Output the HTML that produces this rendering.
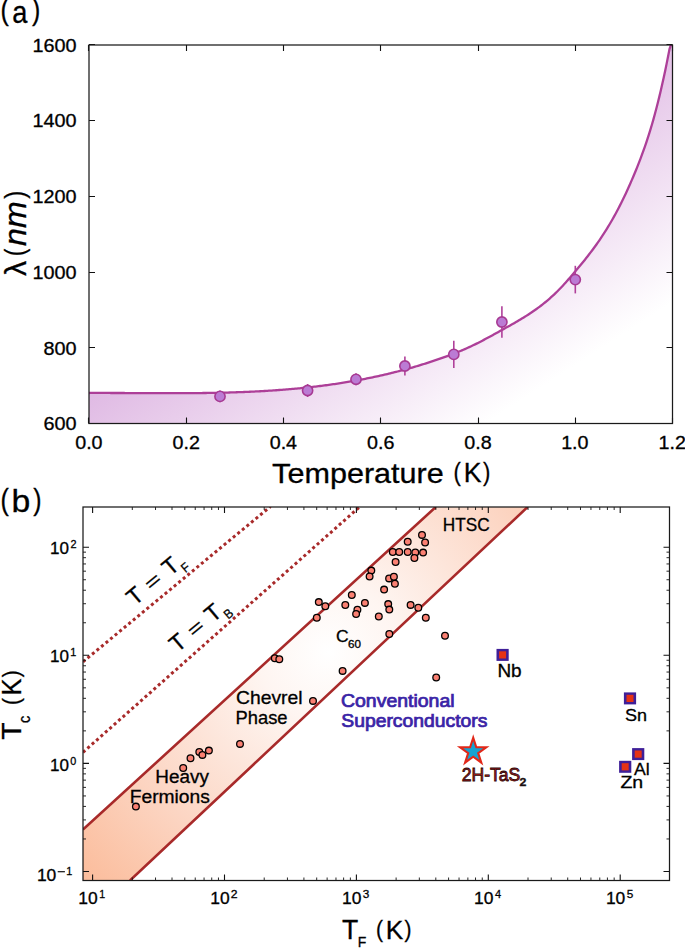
<!DOCTYPE html>
<html><head><meta charset="utf-8"><title>Penetration depth and Uemura plot</title>
<style>html,body{margin:0;padding:0;background:#fff;width:685px;height:948px;overflow:hidden}svg{display:block}text{font-family:"Liberation Sans",sans-serif}</style>
</head><body>
<svg width="685" height="948" viewBox="0 0 685 948" font-family="Liberation Sans, sans-serif">
<defs>
<linearGradient id="ga" gradientUnits="userSpaceOnUse" x1="89" y1="45" x2="379.2" y2="492.6"><stop offset="0" stop-color="#b965c2"/><stop offset="1" stop-color="#ffffff"/></linearGradient>
<radialGradient id="gb" gradientUnits="userSpaceOnUse" cx="328" cy="652" r="350"><stop offset="0" stop-color="#ffffff"/><stop offset="0.2" stop-color="#fef5f1"/><stop offset="0.62" stop-color="#fcd6c4"/><stop offset="1" stop-color="#fbb996"/></radialGradient>
<clipPath id="cb"><rect x="83" y="507" width="586.5" height="373.5"/></clipPath>
<clipPath id="ca"><rect x="89" y="45" width="583.5" height="378.5"/></clipPath>
</defs>
<rect width="685" height="948" fill="#fff"/>
<path d="M89.00,392.98 L90.46,392.97 L91.92,392.97 L93.39,392.97 L94.85,392.96 L96.31,392.96 L97.77,392.96 L99.24,392.96 L100.70,392.96 L102.16,392.96 L103.62,392.96 L105.09,392.96 L106.55,392.97 L108.01,392.97 L109.47,392.97 L110.94,392.98 L112.40,392.98 L113.86,392.98 L115.32,392.99 L116.79,392.99 L118.25,393.00 L119.71,393.01 L121.17,393.01 L122.64,393.02 L124.10,393.02 L125.56,393.03 L127.02,393.04 L128.48,393.04 L129.95,393.05 L131.41,393.06 L132.87,393.07 L134.33,393.07 L135.80,393.08 L137.26,393.09 L138.72,393.09 L140.18,393.10 L141.65,393.11 L143.11,393.12 L144.57,393.12 L146.03,393.13 L147.50,393.14 L148.96,393.14 L150.42,393.15 L151.88,393.15 L153.35,393.16 L154.81,393.16 L156.27,393.17 L157.73,393.17 L159.20,393.18 L160.66,393.18 L162.12,393.19 L163.58,393.19 L165.05,393.19 L166.51,393.19 L167.97,393.19 L169.43,393.20 L170.89,393.20 L172.36,393.20 L173.82,393.20 L175.28,393.19 L176.74,393.19 L178.21,393.19 L179.67,393.19 L181.13,393.18 L182.59,393.18 L184.06,393.17 L185.52,393.17 L186.98,393.16 L188.44,393.15 L189.91,393.14 L191.37,393.13 L192.83,393.12 L194.29,393.11 L195.76,393.10 L197.22,393.08 L198.68,393.07 L200.14,393.05 L201.61,393.04 L203.07,393.02 L204.53,393.00 L205.99,392.98 L207.45,392.96 L208.92,392.94 L210.38,392.91 L211.84,392.89 L213.30,392.86 L214.77,392.84 L216.23,392.81 L217.69,392.78 L219.15,392.75 L220.62,392.72 L222.08,392.68 L223.54,392.65 L225.00,392.61 L226.47,392.57 L227.93,392.53 L229.39,392.49 L230.85,392.45 L232.32,392.40 L233.78,392.36 L235.24,392.31 L236.70,392.26 L238.17,392.21 L239.63,392.16 L241.09,392.10 L242.55,392.05 L244.02,391.99 L245.48,391.93 L246.94,391.87 L248.40,391.81 L249.86,391.74 L251.33,391.68 L252.79,391.61 L254.25,391.54 L255.71,391.47 L257.18,391.39 L258.64,391.31 L260.10,391.24 L261.56,391.16 L263.03,391.07 L264.49,390.99 L265.95,390.90 L267.41,390.81 L268.88,390.72 L270.34,390.63 L271.80,390.53 L273.26,390.44 L274.73,390.34 L276.19,390.24 L277.65,390.13 L279.11,390.02 L280.58,389.92 L282.04,389.80 L283.50,389.69 L284.96,389.57 L286.42,389.46 L287.89,389.33 L289.35,389.21 L290.81,389.09 L292.27,388.96 L293.74,388.83 L295.20,388.69 L296.66,388.56 L298.12,388.42 L299.59,388.28 L301.05,388.13 L302.51,387.98 L303.97,387.83 L305.44,387.68 L306.90,387.53 L308.36,387.37 L309.82,387.21 L311.29,387.04 L312.75,386.88 L314.21,386.71 L315.67,386.54 L317.14,386.36 L318.60,386.18 L320.06,386.00 L321.52,385.82 L322.98,385.63 L324.45,385.44 L325.91,385.25 L327.37,385.05 L328.83,384.85 L330.30,384.65 L331.76,384.44 L333.22,384.23 L334.68,384.02 L336.15,383.80 L337.61,383.58 L339.07,383.36 L340.53,383.14 L342.00,382.91 L343.46,382.68 L344.92,382.44 L346.38,382.20 L347.85,381.96 L349.31,381.71 L350.77,381.46 L352.23,381.21 L353.70,380.95 L355.16,380.69 L356.62,380.43 L358.08,380.16 L359.55,379.89 L361.01,379.62 L362.47,379.34 L363.93,379.06 L365.39,378.77 L366.86,378.48 L368.32,378.19 L369.78,377.89 L371.24,377.59 L372.71,377.29 L374.17,376.98 L375.63,376.66 L377.09,376.35 L378.56,376.03 L380.02,375.70 L381.48,375.38 L382.94,375.04 L384.41,374.71 L385.87,374.37 L387.33,374.02 L388.79,373.67 L390.26,373.32 L391.72,372.96 L393.18,372.60 L394.64,372.24 L396.11,371.87 L397.57,371.49 L399.03,371.12 L400.49,370.73 L401.95,370.35 L403.42,369.96 L404.88,369.56 L406.34,369.16 L407.80,368.76 L409.27,368.35 L410.73,367.94 L412.19,367.52 L413.65,367.10 L415.12,366.67 L416.58,366.24 L418.04,365.80 L419.50,365.36 L420.97,364.92 L422.43,364.47 L423.89,364.01 L425.35,363.55 L426.82,363.09 L428.28,362.62 L429.74,362.15 L431.20,361.67 L432.67,361.19 L434.13,360.70 L435.59,360.21 L437.05,359.71 L438.52,359.21 L439.98,358.70 L441.44,358.19 L442.90,357.67 L444.36,357.14 L445.83,356.62 L447.29,356.08 L448.75,355.54 L450.21,354.99 L451.68,354.43 L453.14,353.87 L454.60,353.30 L456.06,352.72 L457.53,352.14 L458.99,351.54 L460.45,350.94 L461.91,350.33 L463.38,349.70 L464.84,349.07 L466.30,348.43 L467.76,347.78 L469.23,347.12 L470.69,346.44 L472.15,345.76 L473.61,345.06 L475.08,344.36 L476.54,343.64 L478.00,342.91 L479.46,342.16 L480.92,341.41 L482.39,340.65 L483.85,339.89 L485.31,339.11 L486.77,338.33 L488.24,337.54 L489.70,336.74 L491.16,335.94 L492.62,335.14 L494.09,334.33 L495.55,333.52 L497.01,332.71 L498.47,331.90 L499.94,331.08 L501.40,330.27 L502.86,329.46 L504.32,328.64 L505.79,327.83 L507.25,327.02 L508.71,326.20 L510.17,325.38 L511.64,324.56 L513.10,323.73 L514.56,322.89 L516.02,322.05 L517.48,321.20 L518.95,320.34 L520.41,319.47 L521.87,318.58 L523.33,317.69 L524.80,316.79 L526.26,315.87 L527.72,314.93 L529.18,313.98 L530.65,313.02 L532.11,312.03 L533.57,311.03 L535.03,310.01 L536.50,308.97 L537.96,307.90 L539.42,306.82 L540.88,305.71 L542.35,304.58 L543.81,303.42 L545.27,302.24 L546.73,301.03 L548.20,299.79 L549.66,298.52 L551.12,297.22 L552.58,295.90 L554.05,294.54 L555.51,293.14 L556.97,291.72 L558.43,290.26 L559.89,288.76 L561.36,287.23 L562.82,285.66 L564.28,284.07 L565.74,282.45 L567.21,280.80 L568.67,279.13 L570.13,277.44 L571.59,275.73 L573.06,274.02 L574.52,272.29 L575.98,270.56 L577.44,268.81 L578.91,267.06 L580.37,265.30 L581.83,263.52 L583.29,261.72 L584.76,259.91 L586.22,258.07 L587.68,256.21 L589.14,254.33 L590.61,252.42 L592.07,250.49 L593.53,248.52 L594.99,246.52 L596.45,244.48 L597.92,242.41 L599.38,240.30 L600.84,238.15 L602.30,235.96 L603.77,233.72 L605.23,231.44 L606.69,229.10 L608.15,226.72 L609.62,224.28 L611.08,221.79 L612.54,219.24 L614.00,216.64 L615.47,213.97 L616.93,211.25 L618.39,208.47 L619.85,205.63 L621.32,202.72 L622.78,199.76 L624.24,196.73 L625.70,193.64 L627.17,190.49 L628.63,187.27 L630.09,183.99 L631.55,180.64 L633.02,177.23 L634.48,173.74 L635.94,170.19 L637.40,166.58 L638.86,162.88 L640.33,159.10 L641.79,155.21 L643.25,151.21 L644.71,147.09 L646.18,142.83 L647.64,138.43 L649.10,133.86 L650.56,129.13 L652.03,124.21 L653.49,119.11 L654.95,113.80 L656.41,108.29 L657.88,102.56 L659.34,96.63 L660.80,90.48 L662.26,84.10 L663.73,77.50 L665.19,70.67 L666.65,63.61 L668.11,56.31 L669.58,48.76 L671.04,44.70 L672.50,44.70 L672.50,423.50 L89.00,423.50 Z" fill="url(#ga)" clip-path="url(#ca)"/>
<path d="M89.00,392.98 L90.46,392.97 L91.92,392.97 L93.39,392.97 L94.85,392.96 L96.31,392.96 L97.77,392.96 L99.24,392.96 L100.70,392.96 L102.16,392.96 L103.62,392.96 L105.09,392.96 L106.55,392.97 L108.01,392.97 L109.47,392.97 L110.94,392.98 L112.40,392.98 L113.86,392.98 L115.32,392.99 L116.79,392.99 L118.25,393.00 L119.71,393.01 L121.17,393.01 L122.64,393.02 L124.10,393.02 L125.56,393.03 L127.02,393.04 L128.48,393.04 L129.95,393.05 L131.41,393.06 L132.87,393.07 L134.33,393.07 L135.80,393.08 L137.26,393.09 L138.72,393.09 L140.18,393.10 L141.65,393.11 L143.11,393.12 L144.57,393.12 L146.03,393.13 L147.50,393.14 L148.96,393.14 L150.42,393.15 L151.88,393.15 L153.35,393.16 L154.81,393.16 L156.27,393.17 L157.73,393.17 L159.20,393.18 L160.66,393.18 L162.12,393.19 L163.58,393.19 L165.05,393.19 L166.51,393.19 L167.97,393.19 L169.43,393.20 L170.89,393.20 L172.36,393.20 L173.82,393.20 L175.28,393.19 L176.74,393.19 L178.21,393.19 L179.67,393.19 L181.13,393.18 L182.59,393.18 L184.06,393.17 L185.52,393.17 L186.98,393.16 L188.44,393.15 L189.91,393.14 L191.37,393.13 L192.83,393.12 L194.29,393.11 L195.76,393.10 L197.22,393.08 L198.68,393.07 L200.14,393.05 L201.61,393.04 L203.07,393.02 L204.53,393.00 L205.99,392.98 L207.45,392.96 L208.92,392.94 L210.38,392.91 L211.84,392.89 L213.30,392.86 L214.77,392.84 L216.23,392.81 L217.69,392.78 L219.15,392.75 L220.62,392.72 L222.08,392.68 L223.54,392.65 L225.00,392.61 L226.47,392.57 L227.93,392.53 L229.39,392.49 L230.85,392.45 L232.32,392.40 L233.78,392.36 L235.24,392.31 L236.70,392.26 L238.17,392.21 L239.63,392.16 L241.09,392.10 L242.55,392.05 L244.02,391.99 L245.48,391.93 L246.94,391.87 L248.40,391.81 L249.86,391.74 L251.33,391.68 L252.79,391.61 L254.25,391.54 L255.71,391.47 L257.18,391.39 L258.64,391.31 L260.10,391.24 L261.56,391.16 L263.03,391.07 L264.49,390.99 L265.95,390.90 L267.41,390.81 L268.88,390.72 L270.34,390.63 L271.80,390.53 L273.26,390.44 L274.73,390.34 L276.19,390.24 L277.65,390.13 L279.11,390.02 L280.58,389.92 L282.04,389.80 L283.50,389.69 L284.96,389.57 L286.42,389.46 L287.89,389.33 L289.35,389.21 L290.81,389.09 L292.27,388.96 L293.74,388.83 L295.20,388.69 L296.66,388.56 L298.12,388.42 L299.59,388.28 L301.05,388.13 L302.51,387.98 L303.97,387.83 L305.44,387.68 L306.90,387.53 L308.36,387.37 L309.82,387.21 L311.29,387.04 L312.75,386.88 L314.21,386.71 L315.67,386.54 L317.14,386.36 L318.60,386.18 L320.06,386.00 L321.52,385.82 L322.98,385.63 L324.45,385.44 L325.91,385.25 L327.37,385.05 L328.83,384.85 L330.30,384.65 L331.76,384.44 L333.22,384.23 L334.68,384.02 L336.15,383.80 L337.61,383.58 L339.07,383.36 L340.53,383.14 L342.00,382.91 L343.46,382.68 L344.92,382.44 L346.38,382.20 L347.85,381.96 L349.31,381.71 L350.77,381.46 L352.23,381.21 L353.70,380.95 L355.16,380.69 L356.62,380.43 L358.08,380.16 L359.55,379.89 L361.01,379.62 L362.47,379.34 L363.93,379.06 L365.39,378.77 L366.86,378.48 L368.32,378.19 L369.78,377.89 L371.24,377.59 L372.71,377.29 L374.17,376.98 L375.63,376.66 L377.09,376.35 L378.56,376.03 L380.02,375.70 L381.48,375.38 L382.94,375.04 L384.41,374.71 L385.87,374.37 L387.33,374.02 L388.79,373.67 L390.26,373.32 L391.72,372.96 L393.18,372.60 L394.64,372.24 L396.11,371.87 L397.57,371.49 L399.03,371.12 L400.49,370.73 L401.95,370.35 L403.42,369.96 L404.88,369.56 L406.34,369.16 L407.80,368.76 L409.27,368.35 L410.73,367.94 L412.19,367.52 L413.65,367.10 L415.12,366.67 L416.58,366.24 L418.04,365.80 L419.50,365.36 L420.97,364.92 L422.43,364.47 L423.89,364.01 L425.35,363.55 L426.82,363.09 L428.28,362.62 L429.74,362.15 L431.20,361.67 L432.67,361.19 L434.13,360.70 L435.59,360.21 L437.05,359.71 L438.52,359.21 L439.98,358.70 L441.44,358.19 L442.90,357.67 L444.36,357.14 L445.83,356.62 L447.29,356.08 L448.75,355.54 L450.21,354.99 L451.68,354.43 L453.14,353.87 L454.60,353.30 L456.06,352.72 L457.53,352.14 L458.99,351.54 L460.45,350.94 L461.91,350.33 L463.38,349.70 L464.84,349.07 L466.30,348.43 L467.76,347.78 L469.23,347.12 L470.69,346.44 L472.15,345.76 L473.61,345.06 L475.08,344.36 L476.54,343.64 L478.00,342.91 L479.46,342.16 L480.92,341.41 L482.39,340.65 L483.85,339.89 L485.31,339.11 L486.77,338.33 L488.24,337.54 L489.70,336.74 L491.16,335.94 L492.62,335.14 L494.09,334.33 L495.55,333.52 L497.01,332.71 L498.47,331.90 L499.94,331.08 L501.40,330.27 L502.86,329.46 L504.32,328.64 L505.79,327.83 L507.25,327.02 L508.71,326.20 L510.17,325.38 L511.64,324.56 L513.10,323.73 L514.56,322.89 L516.02,322.05 L517.48,321.20 L518.95,320.34 L520.41,319.47 L521.87,318.58 L523.33,317.69 L524.80,316.79 L526.26,315.87 L527.72,314.93 L529.18,313.98 L530.65,313.02 L532.11,312.03 L533.57,311.03 L535.03,310.01 L536.50,308.97 L537.96,307.90 L539.42,306.82 L540.88,305.71 L542.35,304.58 L543.81,303.42 L545.27,302.24 L546.73,301.03 L548.20,299.79 L549.66,298.52 L551.12,297.22 L552.58,295.90 L554.05,294.54 L555.51,293.14 L556.97,291.72 L558.43,290.26 L559.89,288.76 L561.36,287.23 L562.82,285.66 L564.28,284.07 L565.74,282.45 L567.21,280.80 L568.67,279.13 L570.13,277.44 L571.59,275.73 L573.06,274.02 L574.52,272.29 L575.98,270.56 L577.44,268.81 L578.91,267.06 L580.37,265.30 L581.83,263.52 L583.29,261.72 L584.76,259.91 L586.22,258.07 L587.68,256.21 L589.14,254.33 L590.61,252.42 L592.07,250.49 L593.53,248.52 L594.99,246.52 L596.45,244.48 L597.92,242.41 L599.38,240.30 L600.84,238.15 L602.30,235.96 L603.77,233.72 L605.23,231.44 L606.69,229.10 L608.15,226.72 L609.62,224.28 L611.08,221.79 L612.54,219.24 L614.00,216.64 L615.47,213.97 L616.93,211.25 L618.39,208.47 L619.85,205.63 L621.32,202.72 L622.78,199.76 L624.24,196.73 L625.70,193.64 L627.17,190.49 L628.63,187.27 L630.09,183.99 L631.55,180.64 L633.02,177.23 L634.48,173.74 L635.94,170.19 L637.40,166.58 L638.86,162.88 L640.33,159.10 L641.79,155.21 L643.25,151.21 L644.71,147.09 L646.18,142.83 L647.64,138.43 L649.10,133.86 L650.56,129.13 L652.03,124.21 L653.49,119.11 L654.95,113.80 L656.41,108.29 L657.88,102.56 L659.34,96.63 L660.80,90.48 L662.26,84.10 L663.73,77.50 L665.19,70.67 L666.65,63.61 L668.11,56.31 L669.58,48.76 L671.04,44.70 L672.50,44.70" fill="none" stroke="#ad3f98" stroke-width="2.3" clip-path="url(#ca)"/>
<line x1="220.00" y1="390.60" x2="220.00" y2="402.20" stroke="#b0409a" stroke-width="1.6"/>
<line x1="307.60" y1="384.00" x2="307.60" y2="397.00" stroke="#b0409a" stroke-width="1.6"/>
<line x1="356.00" y1="373.30" x2="356.00" y2="385.30" stroke="#b0409a" stroke-width="1.6"/>
<line x1="404.90" y1="356.40" x2="404.90" y2="375.60" stroke="#b0409a" stroke-width="1.6"/>
<line x1="453.80" y1="340.80" x2="453.80" y2="368.00" stroke="#b0409a" stroke-width="1.6"/>
<line x1="501.90" y1="306.20" x2="501.90" y2="337.80" stroke="#b0409a" stroke-width="1.6"/>
<line x1="575.30" y1="265.80" x2="575.30" y2="293.40" stroke="#b0409a" stroke-width="1.6"/>
<circle cx="220.00" cy="396.40" r="5.1" fill="#bb7bd4" stroke="#a73a93" stroke-width="1.6"/>
<circle cx="307.60" cy="390.50" r="5.1" fill="#bb7bd4" stroke="#a73a93" stroke-width="1.6"/>
<circle cx="356.00" cy="379.30" r="5.1" fill="#bb7bd4" stroke="#a73a93" stroke-width="1.6"/>
<circle cx="404.90" cy="366.00" r="5.1" fill="#bb7bd4" stroke="#a73a93" stroke-width="1.6"/>
<circle cx="453.80" cy="354.40" r="5.1" fill="#bb7bd4" stroke="#a73a93" stroke-width="1.6"/>
<circle cx="501.90" cy="322.00" r="5.1" fill="#bb7bd4" stroke="#a73a93" stroke-width="1.6"/>
<circle cx="575.30" cy="279.60" r="5.1" fill="#bb7bd4" stroke="#a73a93" stroke-width="1.6"/>
<path d="M88.50,423.50 v-6 M88.50,45.00 v6 M186.50,423.50 v-6 M186.50,45.00 v6 M283.50,423.50 v-6 M283.50,45.00 v6 M380.50,423.50 v-6 M380.50,45.00 v6 M478.50,423.50 v-6 M478.50,45.00 v6 M575.50,423.50 v-6 M575.50,45.00 v6 M672.50,423.50 v-6 M672.50,45.00 v6 M89.00,423.50 h6 M672.50,423.50 h-6 M89.00,347.50 h6 M672.50,347.50 h-6 M89.00,272.50 h6 M672.50,272.50 h-6 M89.00,196.50 h6 M672.50,196.50 h-6 M89.00,120.50 h6 M672.50,120.50 h-6 M89.00,44.50 h6 M672.50,44.50 h-6" stroke="#111" stroke-width="1.1" fill="none"/>
<rect x="89.00" y="45.00" width="583.50" height="378.50" fill="none" stroke="#1a1a1a" stroke-width="1.25"/>
<g clip-path="url(#cb)">
<path d="M83,829.6 L435.8,507 L527.6,507 L130.0,880.5 L83,880.5 Z" fill="url(#gb)"/>
<path d="M83,829.6 L435.8,507 M527.6,507 L130.0,880.5" stroke="#a82a2a" stroke-width="2.6" fill="none"/>
<path d="M83,661.8 L270.5,506.5 M83,752.3 L360,506.5" stroke="#a82a2a" stroke-width="3.0" stroke-dasharray="3.0,2.9" fill="none"/>
</g>
<circle cx="135.9" cy="806.6" r="3.35" fill="#fa8072" stroke="#000" stroke-width="1.3"/>
<circle cx="183.2" cy="768.0" r="3.35" fill="#fa8072" stroke="#000" stroke-width="1.3"/>
<circle cx="190.5" cy="758.2" r="3.35" fill="#fa8072" stroke="#000" stroke-width="1.3"/>
<circle cx="199.3" cy="751.9" r="3.35" fill="#fa8072" stroke="#000" stroke-width="1.3"/>
<circle cx="202.4" cy="754.9" r="3.35" fill="#fa8072" stroke="#000" stroke-width="1.3"/>
<circle cx="208.9" cy="750.6" r="3.35" fill="#fa8072" stroke="#000" stroke-width="1.3"/>
<circle cx="240.0" cy="743.9" r="3.35" fill="#fa8072" stroke="#000" stroke-width="1.3"/>
<circle cx="274.8" cy="658.2" r="3.35" fill="#fa8072" stroke="#000" stroke-width="1.3"/>
<circle cx="279.3" cy="659.2" r="3.35" fill="#fa8072" stroke="#000" stroke-width="1.3"/>
<circle cx="313.0" cy="700.9" r="3.35" fill="#fa8072" stroke="#000" stroke-width="1.3"/>
<circle cx="342.6" cy="670.9" r="3.35" fill="#fa8072" stroke="#000" stroke-width="1.3"/>
<circle cx="316.8" cy="617.8" r="3.35" fill="#fa8072" stroke="#000" stroke-width="1.3"/>
<circle cx="318.8" cy="602.1" r="3.35" fill="#fa8072" stroke="#000" stroke-width="1.3"/>
<circle cx="325.3" cy="606.2" r="3.35" fill="#fa8072" stroke="#000" stroke-width="1.3"/>
<circle cx="351.8" cy="595.0" r="3.35" fill="#fa8072" stroke="#000" stroke-width="1.3"/>
<circle cx="345.3" cy="605.0" r="3.35" fill="#fa8072" stroke="#000" stroke-width="1.3"/>
<circle cx="364.9" cy="602.9" r="3.35" fill="#fa8072" stroke="#000" stroke-width="1.3"/>
<circle cx="357.4" cy="609.8" r="3.35" fill="#fa8072" stroke="#000" stroke-width="1.3"/>
<circle cx="356.1" cy="614.0" r="3.35" fill="#fa8072" stroke="#000" stroke-width="1.3"/>
<circle cx="378.8" cy="616.5" r="3.35" fill="#fa8072" stroke="#000" stroke-width="1.3"/>
<circle cx="384.1" cy="589.6" r="3.35" fill="#fa8072" stroke="#000" stroke-width="1.3"/>
<circle cx="388.2" cy="604.1" r="3.35" fill="#fa8072" stroke="#000" stroke-width="1.3"/>
<circle cx="389.3" cy="609.6" r="3.35" fill="#fa8072" stroke="#000" stroke-width="1.3"/>
<circle cx="389.1" cy="578.4" r="3.35" fill="#fa8072" stroke="#000" stroke-width="1.3"/>
<circle cx="393.9" cy="576.7" r="3.35" fill="#fa8072" stroke="#000" stroke-width="1.3"/>
<circle cx="394.9" cy="583.7" r="3.35" fill="#fa8072" stroke="#000" stroke-width="1.3"/>
<circle cx="395.6" cy="562.0" r="3.35" fill="#fa8072" stroke="#000" stroke-width="1.3"/>
<circle cx="371.3" cy="570.6" r="3.35" fill="#fa8072" stroke="#000" stroke-width="1.3"/>
<circle cx="369.6" cy="576.5" r="3.35" fill="#fa8072" stroke="#000" stroke-width="1.3"/>
<circle cx="392.8" cy="552.0" r="3.35" fill="#fa8072" stroke="#000" stroke-width="1.3"/>
<circle cx="399.2" cy="552.0" r="3.35" fill="#fa8072" stroke="#000" stroke-width="1.3"/>
<circle cx="407.7" cy="552.0" r="3.35" fill="#fa8072" stroke="#000" stroke-width="1.3"/>
<circle cx="415.3" cy="552.5" r="3.35" fill="#fa8072" stroke="#000" stroke-width="1.3"/>
<circle cx="423.1" cy="552.6" r="3.35" fill="#fa8072" stroke="#000" stroke-width="1.3"/>
<circle cx="414.4" cy="558.0" r="3.35" fill="#fa8072" stroke="#000" stroke-width="1.3"/>
<circle cx="407.7" cy="541.7" r="3.35" fill="#fa8072" stroke="#000" stroke-width="1.3"/>
<circle cx="422.0" cy="534.9" r="3.35" fill="#fa8072" stroke="#000" stroke-width="1.3"/>
<circle cx="425.1" cy="542.5" r="3.35" fill="#fa8072" stroke="#000" stroke-width="1.3"/>
<circle cx="410.6" cy="604.9" r="3.35" fill="#fa8072" stroke="#000" stroke-width="1.3"/>
<circle cx="418.3" cy="607.7" r="3.35" fill="#fa8072" stroke="#000" stroke-width="1.3"/>
<circle cx="425.8" cy="617.8" r="3.35" fill="#fa8072" stroke="#000" stroke-width="1.3"/>
<circle cx="389.3" cy="634.0" r="3.35" fill="#fa8072" stroke="#000" stroke-width="1.3"/>
<circle cx="445.0" cy="635.8" r="3.35" fill="#fa8072" stroke="#000" stroke-width="1.3"/>
<circle cx="436.2" cy="677.5" r="3.35" fill="#fa8072" stroke="#000" stroke-width="1.3"/>
<rect x="496.50" y="648.90" width="12.2" height="12.0" fill="#3f1f98"/>
<rect x="499.10" y="651.30" width="7.0" height="7.2" fill="#e63214"/>
<rect x="623.90" y="692.40" width="12.2" height="12.0" fill="#3f1f98"/>
<rect x="626.50" y="694.80" width="7.0" height="7.2" fill="#e63214"/>
<rect x="632.10" y="748.10" width="12.2" height="12.0" fill="#3f1f98"/>
<rect x="634.70" y="750.50" width="7.0" height="7.2" fill="#e63214"/>
<rect x="619.10" y="760.80" width="12.2" height="12.0" fill="#3f1f98"/>
<rect x="621.70" y="763.20" width="7.0" height="7.2" fill="#e63214"/>
<polygon points="473.20,737.70 470.10,747.24 460.08,747.24 468.19,753.13 465.09,762.66 473.20,756.77 481.31,762.66 478.21,753.13 486.32,747.24 476.30,747.24" fill="#16a3d3" stroke="#e12819" stroke-width="2.1" stroke-linejoin="miter" stroke-miterlimit="10"/>
<path d="M92.60,880.50 v-6 M92.60,507.00 v6 M224.50,880.50 v-6 M224.50,507.00 v6 M356.40,880.50 v-6 M356.40,507.00 v6 M488.30,880.50 v-6 M488.30,507.00 v6 M620.20,880.50 v-6 M620.20,507.00 v6 M83.00,871.50 h6 M669.50,871.50 h-6 M83.00,763.40 h6 M669.50,763.40 h-6 M83.00,655.30 h6 M669.50,655.30 h-6 M83.00,547.20 h6 M669.50,547.20 h-6" stroke="#111" stroke-width="1.1" fill="none"/>
<path d="M132.31,880.50 v-3 M132.31,507.00 v3 M155.53,880.50 v-3 M155.53,507.00 v3 M172.01,880.50 v-3 M172.01,507.00 v3 M184.79,880.50 v-3 M184.79,507.00 v3 M195.24,880.50 v-3 M195.24,507.00 v3 M204.07,880.50 v-3 M204.07,507.00 v3 M211.72,880.50 v-3 M211.72,507.00 v3 M218.46,880.50 v-3 M218.46,507.00 v3 M264.21,880.50 v-3 M264.21,507.00 v3 M287.43,880.50 v-3 M287.43,507.00 v3 M303.91,880.50 v-3 M303.91,507.00 v3 M316.69,880.50 v-3 M316.69,507.00 v3 M327.14,880.50 v-3 M327.14,507.00 v3 M335.97,880.50 v-3 M335.97,507.00 v3 M343.62,880.50 v-3 M343.62,507.00 v3 M350.36,880.50 v-3 M350.36,507.00 v3 M396.11,880.50 v-3 M396.11,507.00 v3 M419.33,880.50 v-3 M419.33,507.00 v3 M435.81,880.50 v-3 M435.81,507.00 v3 M448.59,880.50 v-3 M448.59,507.00 v3 M459.04,880.50 v-3 M459.04,507.00 v3 M467.87,880.50 v-3 M467.87,507.00 v3 M475.52,880.50 v-3 M475.52,507.00 v3 M482.26,880.50 v-3 M482.26,507.00 v3 M528.01,880.50 v-3 M528.01,507.00 v3 M551.23,880.50 v-3 M551.23,507.00 v3 M567.71,880.50 v-3 M567.71,507.00 v3 M580.49,880.50 v-3 M580.49,507.00 v3 M590.94,880.50 v-3 M590.94,507.00 v3 M599.77,880.50 v-3 M599.77,507.00 v3 M607.42,880.50 v-3 M607.42,507.00 v3 M614.16,880.50 v-3 M614.16,507.00 v3 M83.00,838.96 h3 M669.50,838.96 h-3 M83.00,819.92 h3 M669.50,819.92 h-3 M83.00,806.42 h3 M669.50,806.42 h-3 M83.00,795.94 h3 M669.50,795.94 h-3 M83.00,787.38 h3 M669.50,787.38 h-3 M83.00,780.14 h3 M669.50,780.14 h-3 M83.00,773.88 h3 M669.50,773.88 h-3 M83.00,768.35 h3 M669.50,768.35 h-3 M83.00,730.86 h3 M669.50,730.86 h-3 M83.00,711.82 h3 M669.50,711.82 h-3 M83.00,698.32 h3 M669.50,698.32 h-3 M83.00,687.84 h3 M669.50,687.84 h-3 M83.00,679.28 h3 M669.50,679.28 h-3 M83.00,672.04 h3 M669.50,672.04 h-3 M83.00,665.78 h3 M669.50,665.78 h-3 M83.00,660.25 h3 M669.50,660.25 h-3 M83.00,622.76 h3 M669.50,622.76 h-3 M83.00,603.72 h3 M669.50,603.72 h-3 M83.00,590.22 h3 M669.50,590.22 h-3 M83.00,579.74 h3 M669.50,579.74 h-3 M83.00,571.18 h3 M669.50,571.18 h-3 M83.00,563.94 h3 M669.50,563.94 h-3 M83.00,557.68 h3 M669.50,557.68 h-3 M83.00,552.15 h3 M669.50,552.15 h-3" stroke="#111" stroke-width="0.9" fill="none"/>
<rect x="83.00" y="507.00" width="586.50" height="373.50" fill="none" stroke="#1a1a1a" stroke-width="1.25"/>
<rect x="57.7" y="871.1" width="7.2" height="1.2" fill="#111"/>
<g fill="#000">
<text font-size="28.96" fill="#000" stroke="#000" stroke-width="0.30" transform="translate(0.57,20.37) scale(0.8656,1)">(</text>
<text font-size="30.93" fill="#000" stroke="#000" stroke-width="0.30" transform="translate(12.25,23.02) scale(0.8824,1)">a</text>
<text font-size="28.96" fill="#000" stroke="#000" stroke-width="0.30" transform="translate(32.00,20.37) scale(0.8595,1)">)</text>
<text font-size="28.30" fill="#000" stroke="#000" stroke-width="0.30" transform="translate(272.12,482.80) scale(1.0808,1)">Temperature</text>
<text font-size="25.50" fill="#000" stroke="#000" stroke-width="0.30" transform="translate(453.57,480.62) scale(0.8647,1)">(</text>
<text font-size="27.16" fill="#000" stroke="#000" stroke-width="0.30" transform="translate(463.72,482.30) scale(0.9806,1)">K</text>
<text font-size="25.50" fill="#000" stroke="#000" stroke-width="0.30" transform="translate(482.90,480.62) scale(0.8647,1)">)</text>
<g transform="rotate(-90)"><text font-size="29.96" fill="#000" stroke="#000" stroke-width="0.30" transform="translate(-276.00,25.80) scale(1.0014,1)">λ</text></g>
<g transform="rotate(-90)"><text font-size="27.28" fill="#000" stroke="#000" stroke-width="0.30" transform="translate(-256.37,23.63) scale(0.8342,1)">(</text></g>
<g transform="rotate(-90)"><text font-size="30.72" font-style="italic" fill="#000" stroke="#000" stroke-width="0.30" transform="translate(-245.90,26.10) scale(1.0442,1)">nm</text></g>
<g transform="rotate(-90)"><text font-size="27.80" fill="#000" stroke="#000" stroke-width="0.30" transform="translate(-198.70,23.82) scale(0.8696,1)">)</text></g>
<text font-size="28.96" fill="#000" stroke="#000" stroke-width="0.30" transform="translate(0.57,509.57) scale(0.8656,1)">(</text>
<text font-size="31.33" fill="#000" stroke="#000" stroke-width="0.30" transform="translate(11.49,511.51) scale(1.0776,1)">b</text>
<text font-size="28.96" fill="#000" stroke="#000" stroke-width="0.30" transform="translate(33.30,509.57) scale(0.8595,1)">)</text>
<text font-size="16.28" fill="#000" stroke="#000" stroke-width="0.30" transform="translate(49.93,553.85) scale(1.0489,1)">10</text>
<text font-size="11.38" fill="#000" stroke="#000" stroke-width="0.30" transform="translate(70.49,547.90) scale(0.9562,1)">2</text>
<text font-size="16.28" fill="#000" stroke="#000" stroke-width="0.30" transform="translate(49.93,662.05) scale(1.0489,1)">10</text>
<text font-size="11.24" fill="#000" stroke="#000" stroke-width="0.30" transform="translate(70.32,655.90) scale(0.9625,1)">1</text>
<text font-size="16.28" fill="#000" stroke="#000" stroke-width="0.30" transform="translate(49.93,770.75) scale(1.0489,1)">10</text>
<text font-size="11.27" fill="#000" stroke="#000" stroke-width="0.30" transform="translate(70.36,765.02) scale(0.9583,1)">0</text>
<text font-size="16.00" fill="#000" stroke="#000" stroke-width="0.30" transform="translate(36.91,880.75) scale(1.0916,1)">10</text>
<text font-size="11.52" fill="#000" stroke="#000" stroke-width="0.30" transform="translate(66.22,875.20) scale(0.9387,1)">1</text>
<text font-size="16.83" fill="#000" stroke="#000" stroke-width="0.30" transform="translate(78.31,903.84) scale(1.0374,1)">10</text>
<text font-size="11.38" fill="#000" stroke="#000" stroke-width="0.30" transform="translate(99.14,897.90) scale(0.9310,1)">1</text>
<text font-size="16.83" fill="#000" stroke="#000" stroke-width="0.30" transform="translate(210.21,903.84) scale(1.0374,1)">10</text>
<text font-size="11.38" fill="#000" stroke="#000" stroke-width="0.30" transform="translate(230.73,897.90) scale(1.0688,1)">2</text>
<text font-size="16.83" fill="#000" stroke="#000" stroke-width="0.30" transform="translate(342.11,903.84) scale(1.0374,1)">10</text>
<text font-size="11.13" fill="#000" stroke="#000" stroke-width="0.30" transform="translate(362.83,897.73) scale(1.0573,1)">3</text>
<text font-size="16.83" fill="#000" stroke="#000" stroke-width="0.30" transform="translate(474.01,903.84) scale(1.0374,1)">10</text>
<text font-size="11.38" fill="#000" stroke="#000" stroke-width="0.30" transform="translate(494.93,897.90) scale(0.9716,1)">4</text>
<text font-size="16.83" fill="#000" stroke="#000" stroke-width="0.30" transform="translate(605.91,903.84) scale(1.0374,1)">10</text>
<text font-size="11.13" fill="#000" stroke="#000" stroke-width="0.30" transform="translate(626.63,897.73) scale(1.0573,1)">5</text>
<text font-size="26.88" fill="#000" stroke="#000" stroke-width="0.30" transform="translate(341.88,938.80) scale(0.9910,1)">T</text>
<text font-size="14.93" fill="#000" stroke="#000" stroke-width="0.30" transform="translate(357.81,947.00) scale(0.9375,1)">F</text>
<text font-size="24.66" fill="#000" stroke="#000" stroke-width="0.30" transform="translate(376.12,937.01) scale(0.8508,1)">(</text>
<text font-size="26.17" fill="#000" stroke="#000" stroke-width="0.30" transform="translate(385.65,938.60) scale(1.0047,1)">K</text>
<text font-size="24.66" fill="#000" stroke="#000" stroke-width="0.30" transform="translate(404.50,937.01) scale(0.8508,1)">)</text>
<g transform="rotate(-90)"><text font-size="27.59" fill="#000" stroke="#000" stroke-width="0.30" transform="translate(-739.84,20.70) scale(1.0281,1)">T</text></g>
<g transform="rotate(-90)"><text font-size="16.36" fill="#000" stroke="#000" stroke-width="0.30" transform="translate(-722.96,29.64) scale(0.8906,1)">c</text></g>
<g transform="rotate(-90)"><text font-size="24.37" fill="#000" stroke="#000" stroke-width="0.30" transform="translate(-705.08,18.67) scale(0.8607,1)">(</text></g>
<g transform="rotate(-90)"><text font-size="28.23" fill="#000" stroke="#000" stroke-width="0.30" transform="translate(-695.60,20.95) scale(0.9068,1)">K</text></g>
<g transform="rotate(-90)"><text font-size="24.37" fill="#000" stroke="#000" stroke-width="0.30" transform="translate(-677.30,18.67) scale(0.8607,1)">)</text></g>
<g transform="translate(134.50,606.60) rotate(-40)"><text font-size="23.04" fill="#000" stroke="#000" stroke-width="0.30" transform="translate(0.04,0.00) scale(1.0135,1)">T</text></g>
<g transform="translate(134.50,606.60) rotate(-40)"><text font-size="18.33" fill="#000" stroke="#000" stroke-width="0.30" transform="translate(22.32,-1.24) scale(1.4950,1)">=</text></g>
<g transform="translate(134.50,606.60) rotate(-40)"><text font-size="23.04" fill="#000" stroke="#000" stroke-width="0.30" transform="translate(46.33,0.00) scale(1.0210,1)">T</text></g>
<g transform="translate(134.50,606.60) rotate(-40)"><text font-size="13.08" fill="#000" stroke="#000" stroke-width="0.30" transform="translate(60.56,7.30) scale(0.9171,1)">F</text></g>
<g transform="translate(177.10,653.20) rotate(-40)"><text font-size="23.04" fill="#000" stroke="#000" stroke-width="0.30" transform="translate(0.04,0.00) scale(1.0135,1)">T</text></g>
<g transform="translate(177.10,653.20) rotate(-40)"><text font-size="18.33" fill="#000" stroke="#000" stroke-width="0.30" transform="translate(22.32,-1.24) scale(1.4950,1)">=</text></g>
<g transform="translate(177.10,653.20) rotate(-40)"><text font-size="23.04" fill="#000" stroke="#000" stroke-width="0.30" transform="translate(46.33,0.00) scale(1.0210,1)">T</text></g>
<g transform="translate(177.10,653.20) rotate(-40)"><text font-size="13.08" fill="#000" stroke="#000" stroke-width="0.30" transform="translate(60.57,7.30) scale(0.9084,1)">B</text></g>
<text font-size="17.92" fill="#000" stroke="#000" stroke-width="0.30" transform="translate(442.75,531.00) scale(0.9624,1)">HTSC</text>
<text font-size="15.58" fill="#000" stroke="#000" stroke-width="0.30" transform="translate(335.98,642.06) scale(1.1220,1)">C</text>
<text font-size="10.16" fill="#000" stroke="#000" stroke-width="0.30" transform="translate(348.05,647.84) scale(1.1450,1)">60</text>
<text font-size="17.49" fill="#000" stroke="#000" stroke-width="0.30" transform="translate(236.10,703.60) scale(1.1028,1)">Chevrel</text>
<text font-size="17.49" fill="#000" stroke="#000" stroke-width="0.30" transform="translate(235.57,724.40) scale(1.0479,1)">Phase</text>
<text font-size="18.20" fill="#000" stroke="#000" stroke-width="0.30" transform="translate(155.32,782.70) scale(1.0383,1)">Heavy</text>
<text font-size="18.06" fill="#000" stroke="#000" stroke-width="0.30" transform="translate(129.70,803.00) scale(1.0655,1)">Fermions</text>
<text font-size="17.64" fill="#3a24a6" stroke="#3a24a6" stroke-width="0.75" transform="translate(340.99,706.80) scale(1.1034,1)">Conventional</text>
<text font-size="17.64" fill="#3a24a6" stroke="#3a24a6" stroke-width="0.75" transform="translate(341.30,727.10) scale(1.0959,1)">Superconductors</text>
<text font-size="17.78" fill="#000" stroke="#000" stroke-width="0.30" transform="translate(497.42,677.40) scale(1.0671,1)">Nb</text>
<text font-size="17.21" fill="#000" stroke="#000" stroke-width="0.30" transform="translate(624.94,720.90) scale(1.0489,1)">Sn</text>
<text font-size="17.07" fill="#000" stroke="#000" stroke-width="0.30" transform="translate(634.00,775.10) scale(1.0320,1)">Al</text>
<text font-size="16.78" fill="#000" stroke="#000" stroke-width="0.30" transform="translate(620.39,787.70) scale(1.1646,1)">Zn</text>
<text font-size="18.35" fill="#b01e1e" stroke="#2a0505" stroke-width="0.8" transform="translate(461.78,781.10) scale(0.9572,1)">2H-TaS</text>
<text font-size="10.38" font-weight="bold" fill="#1a1010" stroke="#1a1010" stroke-width="0.30" transform="translate(519.51,786.20) scale(1.1943,1)">2</text>
<text font-size="18.50" stroke="#000" stroke-width="0.3" transform="translate(32.46,51.71) scale(1.0721,1)">1600</text>
<text font-size="18.50" stroke="#000" stroke-width="0.3" transform="translate(32.46,127.41) scale(1.0721,1)">1400</text>
<text font-size="18.50" stroke="#000" stroke-width="0.3" transform="translate(32.46,203.11) scale(1.0721,1)">1200</text>
<text font-size="18.50" stroke="#000" stroke-width="0.3" transform="translate(32.46,278.81) scale(1.0721,1)">1000</text>
<text font-size="18.50" stroke="#000" stroke-width="0.3" transform="translate(43.49,354.51) scale(1.0721,1)">800</text>
<text font-size="18.50" stroke="#000" stroke-width="0.3" transform="translate(43.49,430.21) scale(1.0721,1)">600</text>
<text font-size="18.50" stroke="#000" stroke-width="0.3" transform="translate(75.18,449.11) scale(1.0654,1)">0.0</text>
<text font-size="18.50" stroke="#000" stroke-width="0.3" transform="translate(172.59,449.11) scale(1.0654,1)">0.2</text>
<text font-size="18.50" stroke="#000" stroke-width="0.3" transform="translate(269.68,449.11) scale(1.0654,1)">0.4</text>
<text font-size="18.50" stroke="#000" stroke-width="0.3" transform="translate(367.09,449.11) scale(1.0654,1)">0.6</text>
<text font-size="18.50" stroke="#000" stroke-width="0.3" transform="translate(464.34,449.11) scale(1.0654,1)">0.8</text>
<text font-size="18.50" stroke="#000" stroke-width="0.3" transform="translate(561.13,449.11) scale(1.0654,1)">1.0</text>
<text font-size="18.50" stroke="#000" stroke-width="0.3" transform="translate(658.53,449.11) scale(1.0654,1)">1.2</text>
</g>
</svg>
</body></html>
